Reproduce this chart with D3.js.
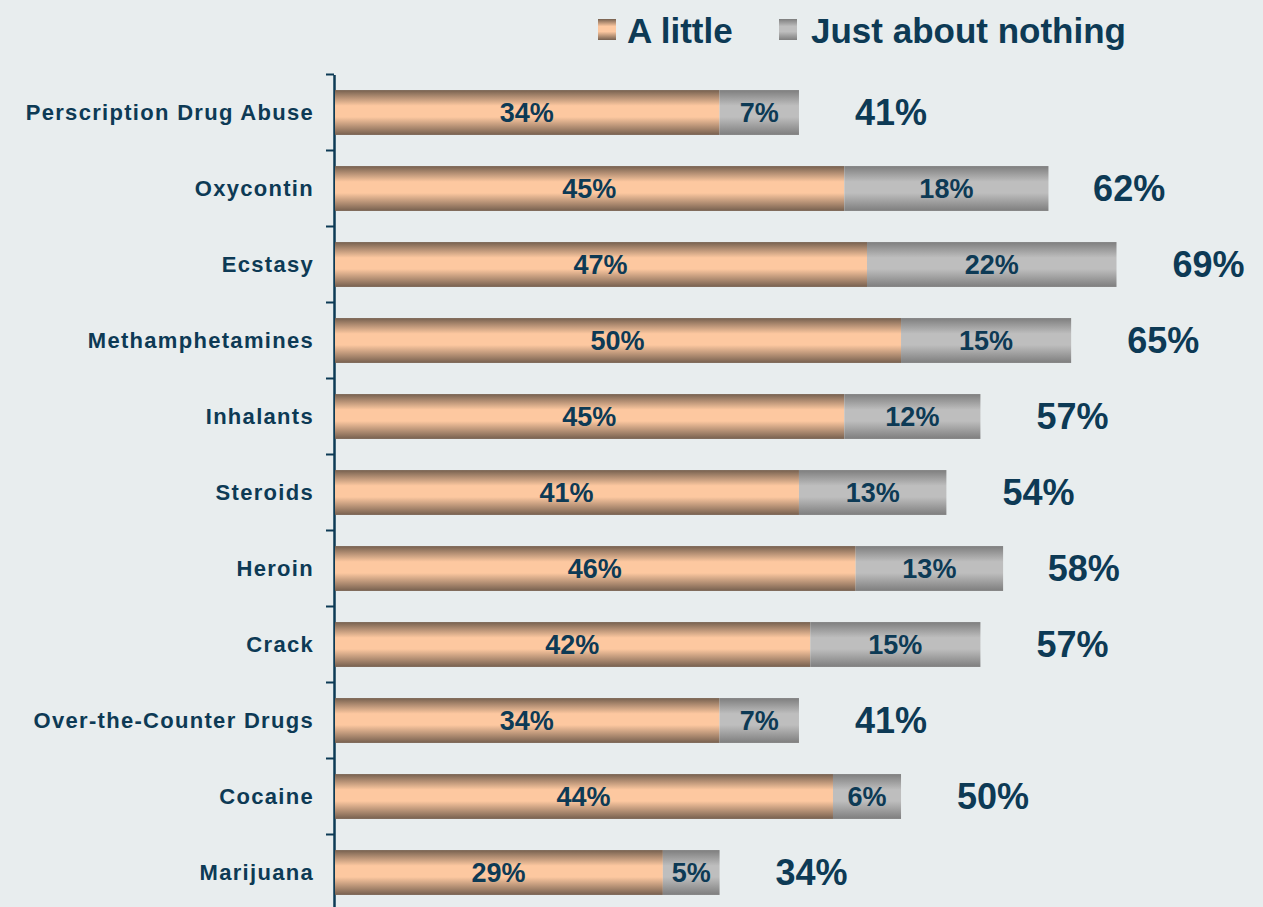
<!DOCTYPE html>
<html>
<head>
<meta charset="utf-8">
<script src="https://cdn.jsdelivr.net/npm/d3@7"></script>
<style>
  body { margin: 0; background: #e8edee; }
  svg { display: block; font-family: "Liberation Sans", Arial, sans-serif; }
</style>
</head>
<body>
<div id="chart"></div>
<script>
const categories = ["Perscription Drug Abuse", "Oxycontin", "Ecstasy", "Methamphetamines", "Inhalants",
  "Steroids", "Heroin", "Crack", "Over-the-Counter Drugs", "Cocaine", "Marijuana"];
const aLittle = [34, 45, 47, 50, 45, 41, 46, 42, 34, 44, 29];
const nothing = [7, 18, 22, 15, 12, 13, 13, 15, 7, 6, 5];
const totals = [41, 62, 69, 65, 57, 54, 58, 57, 41, 50, 34];
const seriesNames = ["A little", "Just about nothing"];

const width = 1263, height = 907;
const textColor = "#0d3a55";

const svg = d3.select("#chart").append("svg")
    .attr("width", width)
    .attr("height", height);

svg.append("rect").attr("width", width).attr("height", height).attr("fill", "#e8edee");

// gradients
const defs = svg.append("defs");
function grad(id, edge, mid) {
    const g = defs.append("linearGradient").attr("id", id)
        .attr("x1", 0).attr("y1", 0).attr("x2", 0).attr("y2", 1);
    g.append("stop").attr("offset", "0%").attr("stop-color", edge);
    g.append("stop").attr("offset", "35%").attr("stop-color", mid);
    g.append("stop").attr("offset", "60%").attr("stop-color", mid);
    g.append("stop").attr("offset", "100%").attr("stop-color", edge);
}
grad("gOrange", "#76604f", "#fdc8a0");
grad("gGray", "#7e7e7e", "#bebebe");

const x = d3.scaleLinear([0, 69], [334, 1116.5]);
const y = d3.scaleBand(categories, [74.5, 910.5]).paddingInner(0.41).paddingOuter(0.205);

// axis
const axis = svg.append("g")
    .attr("transform", `translate(${x(0)},0)`)
    .call(d3.axisLeft(y).tickSize(0).tickPadding(20).tickFormat(d => d))
    .call(g => g.select(".domain").attr("stroke", textColor).attr("stroke-width", 2.5));
axis.selectAll(".tick text")
    .attr("fill", textColor)
    .style("font-size", "22px")
    .style("font-weight", "bold")
    .style("letter-spacing", "1.3px");

// tick marks between categories
const step = y.step();
svg.append("g").selectAll("line")
    .data(d3.range(categories.length + 1))
    .join("line")
    .attr("x1", x(0) - 8).attr("x2", x(0))
    .attr("y1", i => 74.5 + i * step).attr("y2", i => 74.5 + i * step)
    .attr("stroke", textColor).attr("stroke-width", 2);

const rows = svg.append("g").selectAll("g")
    .data(categories)
    .join("g");

// A little
rows.append("rect")
    .attr("x", x(0) + 1)
    .attr("y", d => y(d))
    .attr("height", y.bandwidth())
    .attr("width", (d, i) => x(aLittle[i]) - x(0) - 1)
    .attr("fill", "url(#gOrange)");

// Just about nothing
rows.append("rect")
    .attr("x", (d, i) => x(aLittle[i]))
    .attr("y", d => y(d))
    .attr("height", y.bandwidth())
    .attr("width", (d, i) => x(aLittle[i] + nothing[i]) - x(aLittle[i]))
    .attr("fill", "url(#gGray)");

rows.append("text")
    .attr("x", (d, i) => (x(0) + x(aLittle[i])) / 2)
    .attr("y", d => y(d) + y.bandwidth() / 2)
    .attr("dy", "0.36em")
    .attr("text-anchor", "middle")
    .attr("fill", textColor)
    .style("font-size", "27px").style("font-weight", "bold")
    .text((d, i) => aLittle[i] + "%");

rows.append("text")
    .attr("x", (d, i) => (x(aLittle[i]) + x(aLittle[i] + nothing[i])) / 2)
    .attr("y", d => y(d) + y.bandwidth() / 2)
    .attr("dy", "0.36em")
    .attr("text-anchor", "middle")
    .attr("fill", textColor)
    .style("font-size", "27px").style("font-weight", "bold")
    .text((d, i) => nothing[i] + "%");

// totals
rows.append("text")
    .attr("x", (d, i) => x(totals[i]) + 56)
    .attr("y", d => y(d) + y.bandwidth() / 2)
    .attr("dy", "0.36em")
    .attr("fill", textColor)
    .style("font-size", "36px").style("font-weight", "bold")
    .text((d, i) => totals[i] + "%");

// legend
const legend = svg.append("g");
const legendX = [598, 779];
const legendFill = ["url(#gOrange)", "url(#gGray)"];
seriesNames.forEach((name, i) => {
    legend.append("rect")
        .attr("x", legendX[i]).attr("y", 19)
        .attr("width", 18).attr("height", 21)
        .attr("fill", legendFill[i]);
    legend.append("text")
        .attr("x", legendX[i] + (i === 0 ? 29 : 32)).attr("y", 30)
        .attr("dy", "0.36em")
        .attr("fill", textColor)
        .style("font-size", "35px").style("font-weight", "bold")
        .text(name);
});
</script>
</body>
</html>
